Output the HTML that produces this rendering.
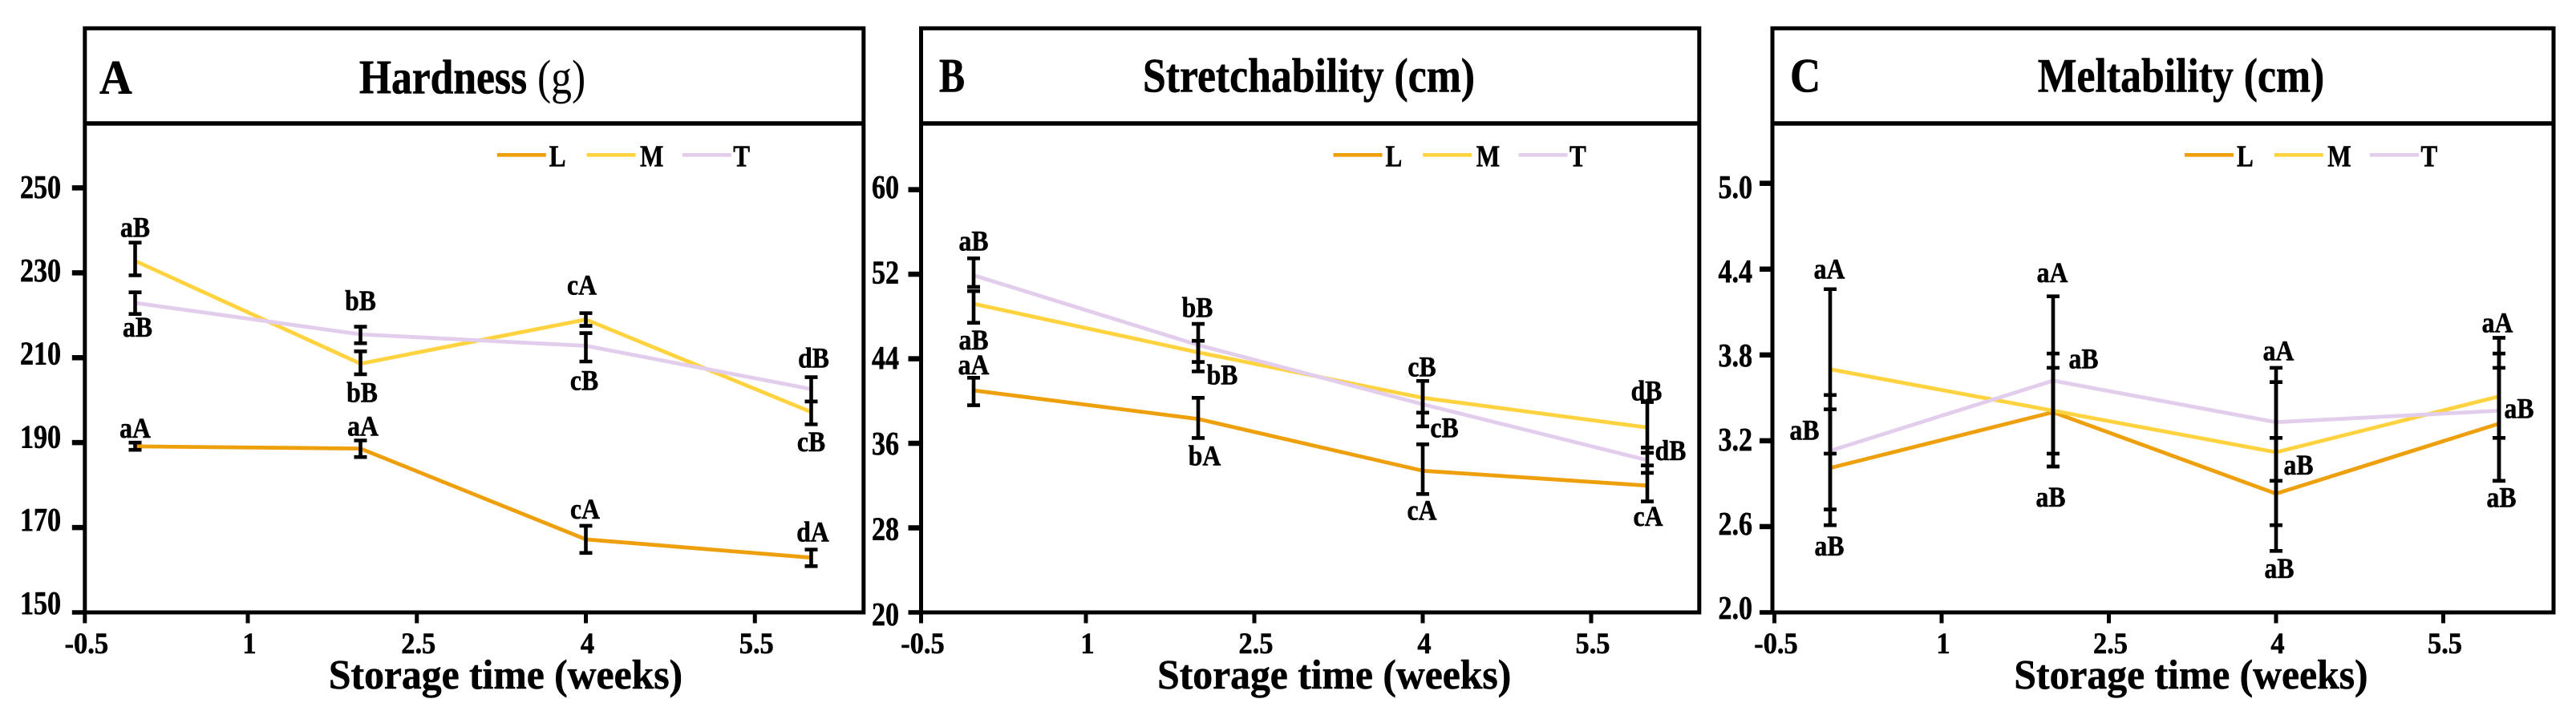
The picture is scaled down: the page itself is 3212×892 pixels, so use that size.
<!DOCTYPE html>
<html lang="en">
<head>
<meta charset="utf-8">
<title>Hardness, stretchability and meltability over storage time</title>
<style>
  html, body { margin: 0; padding: 0; background: #fff; }
  svg { display: block; }
  text { font-family: "Liberation Serif", serif; font-weight: bold; fill: #000; stroke: #000; stroke-width: .6px; }
  tspan.regular { font-weight: normal; stroke-width: 0; }
</style>
</head>
<body>
<svg id="figure" xmlns="http://www.w3.org/2000/svg" width="3212" height="892" viewBox="0 0 3212 892">
  <rect x="0" y="0" width="3212" height="892" fill="#fff"/>

  <g id="panel-a">
    <rect x="105.8" y="35.3" width="971" height="728.7" fill="none" stroke="#000" stroke-width="5"/>
    <line x1="105.8" x2="1076.8" y1="154" y2="154" stroke="#000" stroke-width="5.6"/>
    <text transform="translate(124,116.5) scale(.94,1)" font-size="60">A</text>
    <text transform="translate(589,116.5) scale(.86,1)" font-size="60" text-anchor="middle">Hardness <tspan class="regular">(g)</tspan></text>
    <text transform="translate(630.5,859) scale(.955,1)" font-size="52" text-anchor="middle">Storage time (weeks)</text>
  </g>

  <g id="panel-b">
    <rect x="1148.5" y="35.3" width="970.3" height="728.7" fill="none" stroke="#000" stroke-width="5"/>
    <line x1="1148.5" x2="2118.8" y1="154" y2="154" stroke="#000" stroke-width="5.6"/>
    <text transform="translate(1171,114.5) scale(.8,1)" font-size="60">B</text>
    <text transform="translate(1632,114.5) scale(.862,1)" font-size="60" text-anchor="middle">Stretchability (cm)</text>
    <text transform="translate(1663.7,859) scale(.955,1)" font-size="52" text-anchor="middle">Storage time (weeks)</text>
  </g>

  <g id="panel-c">
    <rect x="2210" y="35.3" width="974" height="728.7" fill="none" stroke="#000" stroke-width="5"/>
    <line x1="2210" x2="3184" y1="154" y2="154" stroke="#000" stroke-width="5.6"/>
    <text transform="translate(2232,114.5) scale(.88,1)" font-size="60">C</text>
    <text transform="translate(2719.5,114.5) scale(.862,1)" font-size="60" text-anchor="middle">Meltability (cm)</text>
    <text transform="translate(2732,859) scale(.955,1)" font-size="52" text-anchor="middle">Storage time (weeks)</text>
  </g>
</svg>

<script>
// ---- shared categories and tick labels ----
const storageWeeks = [0, 2, 4, 6];
const xTickValues = [-0.5, 1, 2.5, 4, 5.5];
const xTickLabels = ['-0.5', '1', '2.5', '4', '5.5'];
const seriesNames = ['L', 'M', 'T'];

// ---- panel A: hardness ----
const hardnessTickValues = [150, 170, 190, 210, 230, 250];
const hardnessTickLabels = ['150', '170', '190', '210', '230', '250'];
const hardnessL = [189.1, 188.6, 167.2, 162.9];
const hardnessM = [232.8, 208.6, 219.0, 197.2];
const hardnessT = [222.9, 215.5, 212.8, 202.6];
const hardnessLHigh = [190.0, 190.5, 170.4, 164.8];
const hardnessLLow = [188.3, 186.6, 164.0, 160.9];
const hardnessMHigh = [237.1, 211.5, 220.5, 199.7];
const hardnessMLow = [229.4, 206.1, 217.5, 194.3];
const hardnessTHigh = [225.4, 217.3, 215.8, 205.4];
const hardnessTLow = [220.3, 213.4, 209.1, 199.7];
const hardnessLSig = ['aA', 'aA', 'cA', 'dA'];
const hardnessMSig = ['aB', 'bB', 'cA', 'cB'];
const hardnessTSig = ['aB', 'bB', 'cB', 'dB'];

// ---- panel B: stretchability ----
const stretchTickValues = [20, 28, 36, 44, 52, 60];
const stretchTickLabels = ['20', '28', '36', '44', '52', '60'];
const stretchL = [41.0, 38.3, 33.4, 32.0];
const stretchM = [49.2, 44.6, 40.3, 37.5];
const stretchT = [51.9, 45.3, 39.7, 34.4];
const stretchLHigh = [42.2, 40.3, 35.9, 33.9];
const stretchLLow = [39.6, 36.5, 31.2, 30.5];
const stretchMHigh = [50.4, 45.7, 41.9, 39.9];
const stretchMLow = [47.4, 42.8, 38.9, 35.1];
const stretchTHigh = [53.5, 47.3, 41.9, 35.6];
const stretchTLow = [50.8, 43.7, 37.6, 33.2];
const stretchLSig = ['aA', 'bA', 'cA', 'cA'];
const stretchMSig = ['aB', 'bB', 'cB', 'dB'];
const stretchTSig = ['aB', 'bB', 'cB', 'dB'];

// ---- panel C: meltability ----
const meltTickValues = [2.0, 2.6, 3.2, 3.8, 4.4, 5.0];
const meltTickLabels = ['2.0', '2.6', '3.2', '3.8', '4.4', '5.0'];
const meltL = [3.01, 3.40, 2.83, 3.32];
const meltM = [3.70, 3.41, 3.12, 3.51];
const meltT = [3.13, 3.62, 3.33, 3.41];
const meltLHigh = [3.42, 3.71, 3.22, 3.71];
const meltLLow = [2.61, 3.11, 2.43, 2.92];
const meltMHigh = [4.26, 3.81, 3.61, 3.81];
const meltMLow = [3.11, 3.02, 2.61, 3.22];
const meltTHigh = [3.52, 4.21, 3.71, 3.92];
const meltTLow = [2.72, 3.02, 2.92, 2.92];
const meltLSig = ['aB', 'aB', 'aB', 'aB'];
const meltMSig = ['aA', 'aB', 'aB', 'aB'];
const meltTSig = ['aB', 'aA', 'aA', 'aA'];

// ---- layout (not data) ----
const SVG_NS = 'http://www.w3.org/2000/svg';
const seriesColors = { L: '#EE9F0C', M: '#FFD23F', T: '#E2CDEC' };
const BOTTOM = 764;

const panelLayouts = {
  a: { left: 105.8, x1: 309, unit: 140.5, topPx: 234.4, labelTop: 233.2, labelBottom: 752, labelRight: 76 },
  b: { left: 1148.5, x1: 1354, unit: 140, topPx: 236.6, labelTop: 233, labelBottom: 766, labelRight: 1121 },
  c: { left: 2210, x1: 2421, unit: 139, topPx: 228.7, labelTop: 233, labelBottom: 758, labelRight: 2185 }
};
const sigOffsets = {
  a: {
    L: [[0, -11], [3, -16], [-1, -26], [2, -20]],
    M: [[0, -30], [2, 48], [-5, -31], [0, 49]],
    T: [[3, 42], [0, -30], [-2, 55], [3, -27]]
  },
  b: {
    L: [[0, -20], [8, 58], [-1, 61], [1, 50]],
    M: [[0, 57], [30, 40], [-1, -27], [-1, -34]],
    T: [[0, -31], [-1, -35], [27, 41], [29, 0]]
  },
  c: {
    L: [[-1, 109], [-3, 118], [4, 105], [3, 104]],
    M: [[-1, -113], [38, -53], [28, 28], [25, 27]],
    T: [[-32, -14], [-1, -123], [3, -77], [-2, -98]]
  }
};

function svgEl(parent, tag, attrs) {
  const el = document.createElementNS(SVG_NS, tag);
  for (const k in attrs) el.setAttribute(k, attrs[k]);
  parent.appendChild(el);
  return el;
}

function addText(parent, str, x, y, size, anchor, sx) {
  const el = svgEl(parent, 'text', {
    transform: 'translate(' + x + ',' + y + ') scale(' + sx + ',1)',
    'font-size': size,
    'text-anchor': anchor
  });
  el.textContent = str;
  return el;
}

function drawPanel(panelId, prefix, tickValues, tickLabels, seriesValues, seriesHigh, seriesLow, seriesSig) {
  const g = document.getElementById('panel-' + panelId);
  const lay = panelLayouts[panelId];
  const yMin = tickValues[0];
  const yMax = tickValues[tickValues.length - 1];

  const xScale = function (v) { return lay.x1 + (v - 1) * lay.unit; };
  const xAxisPos = function (v) { return Math.max(lay.left, xScale(v)); };
  const yScale = function (v) { return BOTTOM - (v - yMin) * (BOTTOM - lay.topPx) / (yMax - yMin); };
  const yLabelPos = function (v) { return lay.labelBottom - (v - yMin) * (lay.labelBottom - lay.labelTop) / (yMax - yMin); };

  // y ticks and labels
  tickValues.forEach(function (v, i) {
    const tick = svgEl(g, 'line', { x1: lay.left - 16, x2: lay.left, y1: yScale(v), y2: yScale(v), stroke: '#000', 'stroke-width': v === yMin ? 5.6 : 6.5 });
    
    
    const label = addText(g, tickLabels[i], lay.labelRight, yLabelPos(v) + 14, 41, 'end', 0.83);
    
    
  });

  // x ticks and labels
  xTickValues.forEach(function (v, i) {
    const px = xAxisPos(v);
    const tick = svgEl(g, 'line', { x1: px, x2: px, y1: BOTTOM, y2: BOTTOM + 13.5, stroke: '#000', 'stroke-width': 5 });
    
    
    const label = addText(g, xTickLabels[i], px + 2, 815, 37, 'middle', 0.93);
    
    
  });

  // series lines
  seriesNames.forEach(function (name, s) {
    const pts = storageWeeks.map(function (w, i) {
      return xScale(w).toFixed(1) + ',' + yScale(seriesValues[s][i]).toFixed(1);
    }).join(' ');
    const line = svgEl(g, 'polyline', { points: pts, fill: 'none', stroke: seriesColors[name], 'stroke-width': 4.8, 'stroke-linejoin': 'miter' });
    
    
  });

  // error bars
  seriesNames.forEach(function (name, s) {
    storageWeeks.forEach(function (w, i) {
      const cx = xScale(w);
      const hi = yScale(seriesHigh[s][i]);
      const lo = yScale(seriesLow[s][i]);
      const bar = svgEl(g, 'path', {
        d: 'M' + cx + ' ' + hi + 'V' + lo + 'M' + (cx - 8) + ' ' + hi + 'H' + (cx + 8) + 'M' + (cx - 8) + ' ' + lo + 'H' + (cx + 8),
        fill: 'none', stroke: '#000', 'stroke-width': 4.6
      });
      
      
    });
  });

  // significance letters
  seriesNames.forEach(function (name, s) {
    storageWeeks.forEach(function (w, i) {
      const off = sigOffsets[panelId][name][i];
      const label = addText(g, seriesSig[s][i], xScale(w) + off[0], yScale(seriesValues[s][i]) + off[1], 36, 'middle', 0.88);
      
      
    });
  });

  // legend
  const legendLine = [514, 625.7, 745];
  const legendGap = [65, 66.5, 63.5];
  seriesNames.forEach(function (name, s) {
    const x0 = lay.left + legendLine[s];
    const swatch = svgEl(g, 'line', { x1: x0, x2: x0 + 61, y1: 193.3, y2: 193.3, stroke: seriesColors[name], 'stroke-width': 4.6 });
    
    
    const label = addText(g, name, x0 + legendGap[s], 207.6, 38, 'start', 0.82);
    
    
  });
}

drawPanel('a', 'hardness', hardnessTickValues, hardnessTickLabels,
  [hardnessL, hardnessM, hardnessT],
  [hardnessLHigh, hardnessMHigh, hardnessTHigh],
  [hardnessLLow, hardnessMLow, hardnessTLow],
  [hardnessLSig, hardnessMSig, hardnessTSig]);

drawPanel('b', 'stretchability', stretchTickValues, stretchTickLabels,
  [stretchL, stretchM, stretchT],
  [stretchLHigh, stretchMHigh, stretchTHigh],
  [stretchLLow, stretchMLow, stretchTLow],
  [stretchLSig, stretchMSig, stretchTSig]);

drawPanel('c', 'meltability', meltTickValues, meltTickLabels,
  [meltL, meltM, meltT],
  [meltLHigh, meltMHigh, meltTHigh],
  [meltLLow, meltMLow, meltTLow],
  [meltLSig, meltMSig, meltTSig]);
</script>
</body>
</html>
